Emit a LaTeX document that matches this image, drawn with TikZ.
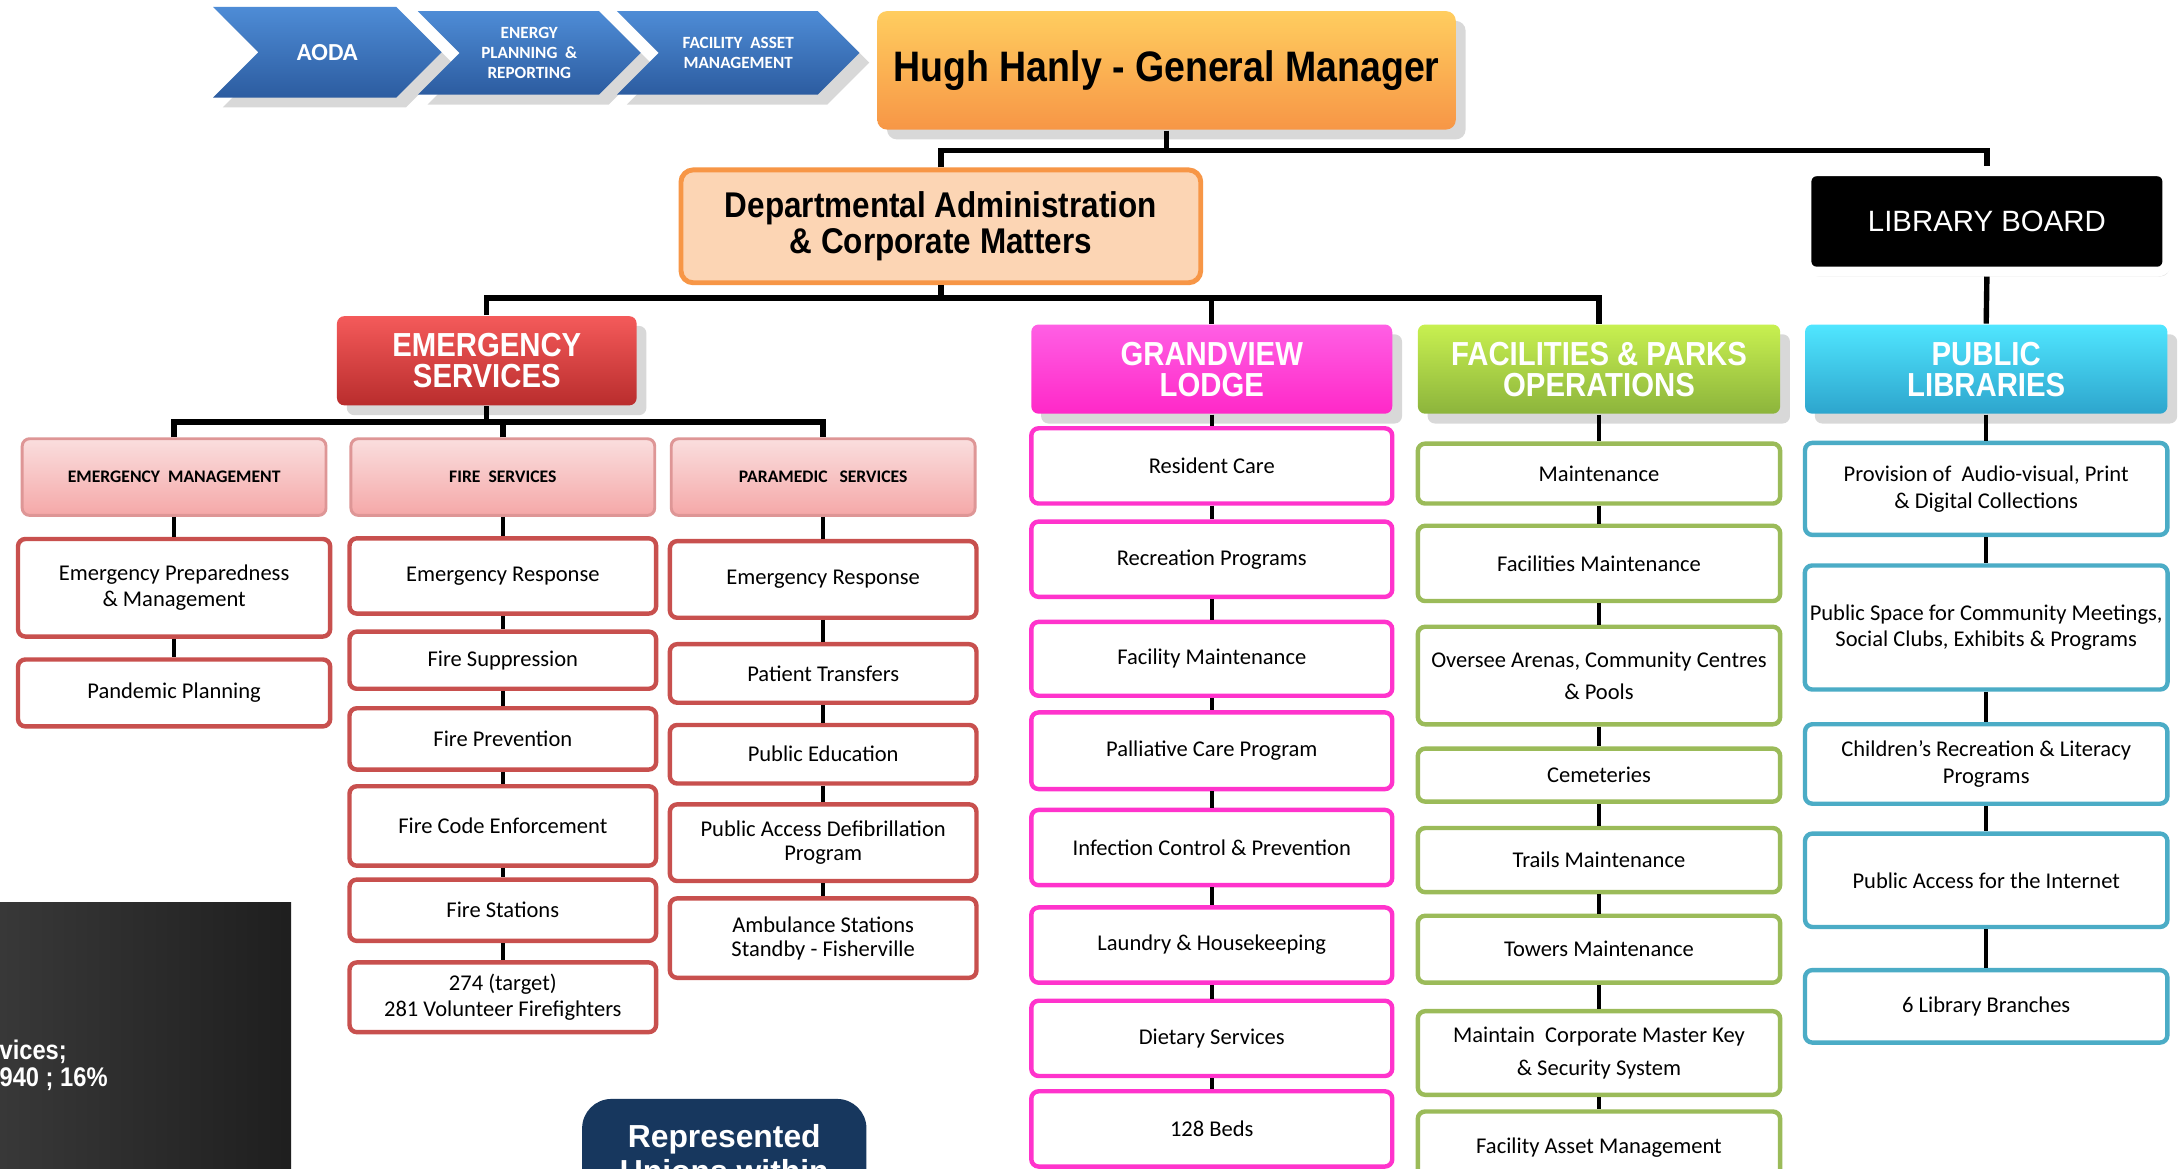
\documentclass[tikz,border=0pt]{standalone}
\usepackage{fontspec}
\setmainfont{Carlito}
\newfontfamily\arialfont{Liberation Sans}
\newfontfamily\narrowfont[FakeStretch=0.88]{Liberation Sans}
\usepackage{tikz}
\usetikzlibrary{shapes.symbols,shadows}

\definecolor{chevtop}{RGB}{78,140,214}
\definecolor{chevbot}{RGB}{44,92,160}
\definecolor{gmtop}{RGB}{255,205,95}
\definecolor{gmbot}{RGB}{247,150,70}
\definecolor{deptfill}{RGB}{252,213,180}
\definecolor{deptline}{RGB}{247,150,70}
\definecolor{emtop}{RGB}{244,90,90}
\definecolor{embot}{RGB}{185,45,45}
\definecolor{pinktop}{RGB}{250,222,222}
\definecolor{pinkbot}{RGB}{245,168,168}
\definecolor{pinkline}{RGB}{222,150,150}
\definecolor{redline}{RGB}{200,80,78}
\definecolor{magtop}{RGB}{255,95,228}
\definecolor{magbot}{RGB}{255,40,200}
\definecolor{magline}{RGB}{255,51,204}
\definecolor{grntop}{RGB}{200,240,80}
\definecolor{grnbot}{RGB}{140,180,60}
\definecolor{grnline}{RGB}{155,187,89}
\definecolor{cyntop}{RGB}{80,230,255}
\definecolor{cynbot}{RGB}{45,165,205}
\definecolor{cynline}{RGB}{75,172,198}
\definecolor{navy}{RGB}{23,55,94}

\tikzset{
  shade/.style={drop shadow={opacity=0.3, shadow xshift=2pt, shadow yshift=-2pt}},
  chev/.style={shape=signal, signal to=east, signal from=west, signal pointer angle=90,
    top color=chevtop, bottom color=chevbot, text=white, inner sep=0pt, align=center,
    shade, font=\bfseries\fontsize{3.5}{4.1}\selectfont},
  hdr/.style={rounded corners=1.5pt, minimum width=2.59cm, minimum height=0.64cm,
    text=white, align=center, shade, font=\narrowfont\bfseries\fontsize{6.8}{6.3}\selectfont},
  sub/.style={draw=pinkline, line width=0.6pt, top color=pinktop, bottom color=pinkbot,
    rounded corners=1.5pt, minimum width=2.18cm, minimum height=0.55cm,
    font=\bfseries\fontsize{3.6}{4}\selectfont},
  item/.style={fill=white, line width=0.9pt, rounded corners=1.5pt, align=center,
    inner sep=1pt, font=\fontsize{4.6}{5.4}\selectfont},
  redbox/.style={item, draw=redline, minimum width=2.2cm},
  magbox/.style={item, draw=magline, minimum width=2.59cm},
  grnbox/.style={item, draw=grnline, minimum width=2.6cm},
  cynbox/.style={item, draw=cynline, minimum width=2.6cm},
  bar/.style={line width=1.1pt},
  link/.style={line width=0.9pt}
}

\begin{document}
\begin{tikzpicture}[x=0.01cm, y=-0.01cm]
\useasboundingbox (0,0) rectangle (1568,839);
\fill[white] (0,0) rectangle (1568,839);
\clip (0,0) rectangle (1568,839);

\node[chev, minimum width=1.64cm, minimum height=0.65cm, font=\bfseries\fontsize{5}{6}\selectfont] (aoda) at (235,37.5) {AODA};
\node[chev, minimum width=1.6cm, minimum height=0.6cm] (energy) at (380,38) {ENERGY\\PLANNING\ \ \&\\REPORTING};
\node[chev, minimum width=1.74cm, minimum height=0.6cm] (asset) at (530,38) {FACILITY\ \ ASSET\\MANAGEMENT};

\node[top color=gmtop, bottom color=gmbot, rounded corners=2pt, minimum width=4.15cm, minimum height=0.85cm, shade,
  font=\narrowfont\bfseries\fontsize{8.7}{10}\selectfont] (gm) at (837.5,50.5) {Hugh Hanly - General Manager};
\node[draw=deptline, line width=1pt, fill=deptfill, rounded corners=2.5pt, minimum width=3.73cm, minimum height=0.81cm,
  align=center, font=\narrowfont\bfseries\fontsize{7.3}{7.4}\selectfont] (dept) at (675.5,162.5) {Departmental Administration\\\& Corporate Matters};
\node[draw=white, line width=2pt, fill=black, rounded corners=2pt, minimum width=2.59cm, minimum height=0.72cm,
  drop shadow={opacity=0.25, shadow xshift=0.5pt, shadow yshift=-1pt},
  text=white, font=\arialfont\fontsize{6}{7}\selectfont] (board) at (1426.5,159) {LIBRARY BOARD};

\node[hdr, top color=emtop, bottom color=embot, minimum width=2.15cm] (emerg) at (349.5,259) {EMERGENCY\\SERVICES};
\node[hdr, top color=magtop, bottom color=magbot] (lodge) at (870,265) {GRANDVIEW\\LODGE};
\node[hdr, top color=grntop, bottom color=grnbot, minimum width=2.6cm] (parks) at (1148,265) {FACILITIES \& PARKS\\OPERATIONS};
\node[hdr, top color=cyntop, bottom color=cynbot, minimum width=2.6cm] (libs) at (1426,265) {PUBLIC\\LIBRARIES};

\node[sub] (emgm) at (125,342.5) {EMERGENCY\ \ MANAGEMENT};
\node[sub] (fire) at (361,342.5) {FIRE\ \ SERVICES};
\node[sub] (para) at (591,342.5) {PARAMEDIC\ \ \ SERVICES};

\node[redbox, minimum width=2.24cm, minimum height=0.7cm] (emprep) at (125,422) {Emergency Preparedness\\\& Management};
\node[redbox, minimum width=2.24cm, minimum height=0.48cm] (empand) at (125,497.5) {Pandemic Planning};

\node[redbox, minimum height=0.54cm] (fresp) at (361,413.5) {Emergency Response};
\node[redbox, minimum height=0.41cm] (fsupp) at (361,474) {Fire Suppression};
\node[redbox, minimum height=0.44cm] (fprev) at (361,530.5) {Fire Prevention};
\node[redbox, minimum height=0.57cm] (fcode) at (361,593) {Fire Code Enforcement};
\node[redbox, minimum height=0.44cm] (fstat) at (361,653.5) {Fire Stations};
\node[redbox, minimum height=0.5cm] (fvol) at (361,716) {274 (target)\\281 Volunteer Firefighters};

\node[redbox, minimum height=0.55cm] (presp) at (591,416) {Emergency Response};
\node[redbox, minimum height=0.42cm] (ptrans) at (591,483.5) {Patient Transfers};
\node[redbox, minimum height=0.42cm] (pedu) at (591,541.5) {Public Education};
\node[redbox, minimum height=0.55cm, font=\fontsize{4.6}{4.9}\selectfont] (paed) at (591,605) {Public Access Defibrillation\\Program};
\node[redbox, minimum height=0.57cm, font=\fontsize{4.6}{4.9}\selectfont] (pamb) at (591,673.5) {Ambulance Stations\\Standby - Fisherville};

\node[magbox, minimum height=0.54cm] (lcare) at (870,334.5) {Resident Care};
\node[magbox, minimum height=0.54cm] (lrec) at (870,401.5) {Recreation Programs};
\node[magbox, minimum height=0.53cm] (lmaint) at (870,473) {Facility Maintenance};
\node[magbox, minimum height=0.55cm] (lpall) at (870,539) {Palliative Care Program};
\node[magbox, minimum height=0.54cm] (linf) at (870,608.5) {Infection Control \& Prevention};
\node[magbox, minimum height=0.54cm] (llaun) at (870,678.5) {Laundry \& Housekeeping};
\node[magbox, minimum height=0.54cm] (ldiet) at (870,745.5) {Dietary Services};
\node[magbox, minimum height=0.54cm] (lbeds) at (870,810.5) {128 Beds};

\node[grnbox, minimum height=0.43cm] (kmaint) at (1148,340) {Maintenance};
\node[grnbox, minimum height=0.54cm] (kfac) at (1148,404.5) {Facilities Maintenance};
\node[grnbox, minimum height=0.7cm, font=\fontsize{4.6}{6.5}\selectfont] (karena) at (1148,485) {Oversee Arenas, Community Centres\\\& Pools};
\node[grnbox, minimum height=0.38cm] (kcem) at (1148,556.5) {Cemeteries};
\node[grnbox, minimum height=0.46cm] (ktrail) at (1148,617.5) {Trails Maintenance};
\node[grnbox, minimum height=0.48cm] (ktower) at (1148,681.5) {Towers Maintenance};
\node[grnbox, minimum height=0.6cm, font=\fontsize{4.6}{6.8}\selectfont] (kkey) at (1148,756) {Maintain\ \ Corporate Master Key\\\& Security System};
\node[grnbox, minimum height=0.52cm] (kasset) at (1148,824) {Facility Asset Management};

\node[cynbox, minimum height=0.66cm] (bprov) at (1426,351) {Provision of\ \ Audio-visual, Print\\\& Digital Collections};
\node[cynbox, minimum height=0.89cm] (bspace) at (1426,450.5) {Public Space for Community Meetings,\\Social Clubs, Exhibits \& Programs};
\node[cynbox, minimum height=0.57cm] (bchild) at (1426,548.5) {Children's Recreation \& Literacy\\Programs};
\node[cynbox, minimum height=0.67cm] (bnet) at (1426,632) {Public Access for the Internet};
\node[cynbox, minimum height=0.52cm] (bbranch) at (1426,722.5) {6 Library Branches};

\fill[left color=black!78, right color=black!88] (0,648) rectangle (209,845);
\node[anchor=west, inner sep=0pt, text=white, font=\narrowfont\bfseries\fontsize{5.5}{6}\selectfont] (share1) at (-1,755) {vices;};
\node[anchor=west, inner sep=0pt, text=white, font=\narrowfont\bfseries\fontsize{5.5}{6}\selectfont] (share2) at (-1,775) {940 ; 16\%};

\node[fill=navy, rounded corners=6pt, minimum width=2.04cm, minimum height=0.78cm, text=white, align=center,
  font=\arialfont\bfseries\fontsize{6.5}{7.1}\selectfont] (unions) at (520,828) {Represented\\Unions within};

\coordinate (gmbar) at (837.5,108);
\draw[bar] (gm.south) -- (gmbar);
\draw[bar] (dept.north) |- (gmbar) -| (board.north);
\coordinate (deptbar) at (675.5,214);
\draw[bar] (dept.south) -- (deptbar);
\draw[bar] (emerg.north) |- (deptbar) -| (parks.north);
\draw[bar] (lodge.north) -- (lodge.north |- deptbar);
\draw[bar] (board.south) -- (libs.north);
\coordinate (emergbar) at (349.5,303);
\draw[bar] (emerg.south) -- (emergbar);
\draw[bar] (emgm.north) |- (emergbar) -| (para.north);
\draw[bar] (fire.north) -- (fire.north |- emergbar);

\foreach \a/\b in {emgm/emprep, emprep/empand,
  fire/fresp, fresp/fsupp, fsupp/fprev, fprev/fcode, fcode/fstat, fstat/fvol,
  para/presp, presp/ptrans, ptrans/pedu, pedu/paed, paed/pamb,
  lodge/lcare, lcare/lrec, lrec/lmaint, lmaint/lpall, lpall/linf, linf/llaun, llaun/ldiet, ldiet/lbeds,
  parks/kmaint, kmaint/kfac, kfac/karena, karena/kcem, kcem/ktrail, ktrail/ktower, ktower/kkey, kkey/kasset,
  libs/bprov, bprov/bspace, bspace/bchild, bchild/bnet, bnet/bbranch}
  \draw[link] (\a.south) -- (\b.north);
\end{tikzpicture}
\end{document}
